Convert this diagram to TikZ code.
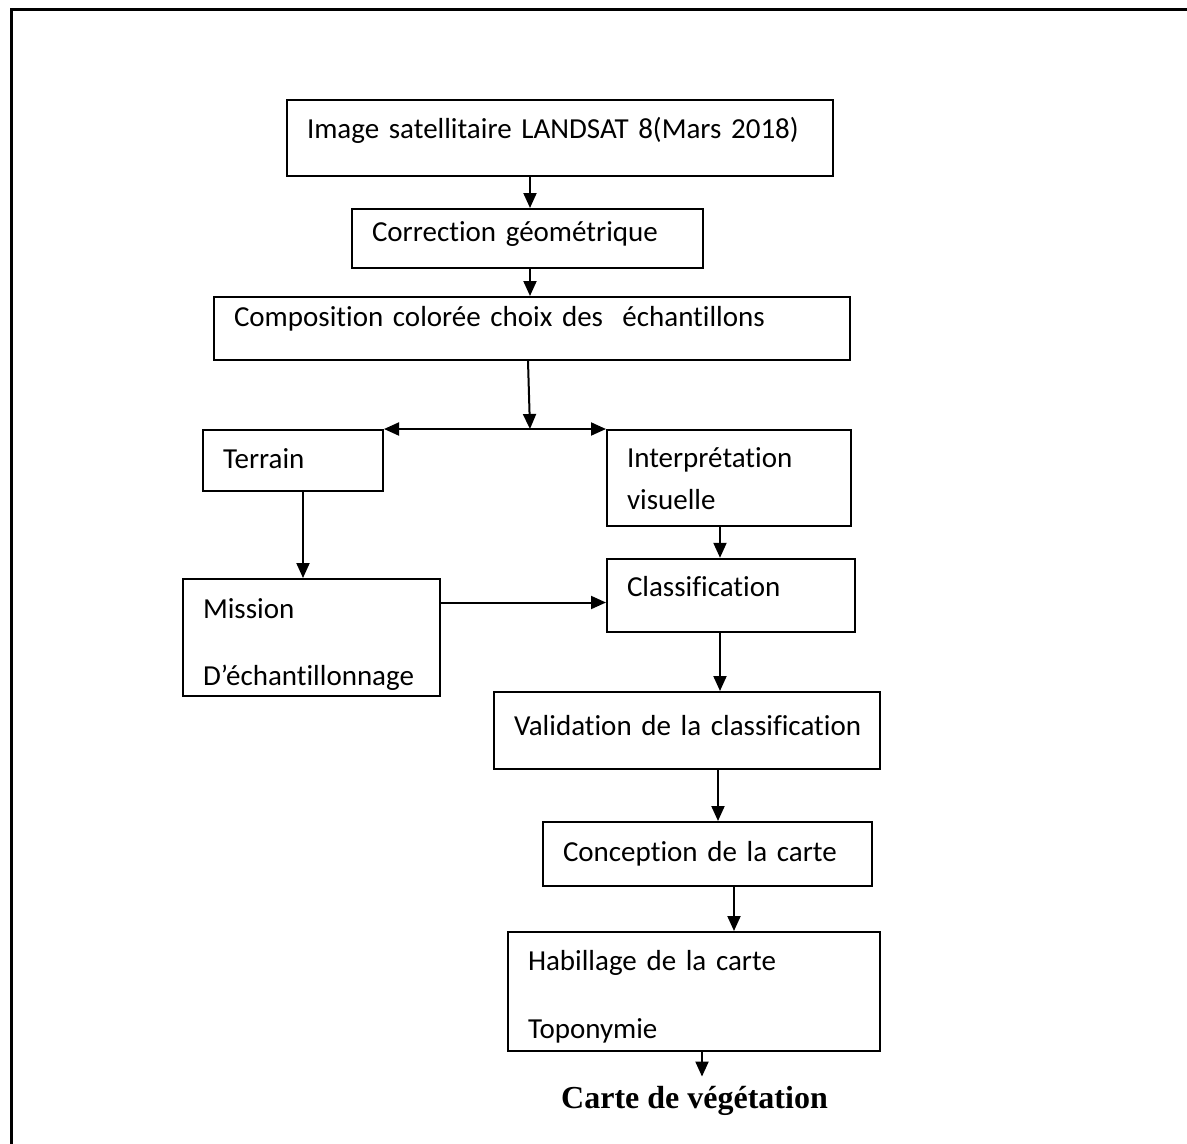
\documentclass[tikz,border=0pt]{standalone}
\usepackage{fontspec}
\setmainfont{Carlito}[Ligatures=NoCommon]
\newfontfamily\titlefont{Liberation Serif}
\usetikzlibrary{arrows.meta}
\tikzset{
  box/.style={shape=rectangle,draw=black,line width=2pt,align=left,
    inner xsep=0pt,inner ysep=2pt,font=\fontsize{29}{35}\selectfont,
    execute at begin node={\leftskip=20pt}},
  arr/.style={-{Triangle[length=15pt,width=13pt]},line width=2pt},
}
\begin{document}
\begin{tikzpicture}[x=1pt,y=-1pt]
      \useasboundingbox (0,0) rectangle (1187,1144);
      \draw[line width=3pt] (11,1144) -- (11,9) -- (1187,9);
      \draw
        (560, 138) node[box,text width=546pt,minimum height=76pt,text height=20pt,text depth=20pt] (img){Image satellitaire LANDSAT 8(Mars 2018)}
        (527.5, 238.5) node[box,text width=351pt,minimum height=59pt,text height=22.5pt,text depth=17.5pt] (corr){Correction géométrique}
        (532, 328.5) node[box,text width=636pt,minimum height=63pt,text height=17.5pt,text depth=22.5pt] (comp){Composition colorée choix des~ échantillons}
        (293, 460.5) node[box,text width=180pt,minimum height=61pt,text height=27.5pt,text depth=12.5pt] (terr){Terrain}
        (729, 478) node[box,text width=244pt,minimum height=96pt,text height=28pt,text depth=48.6pt] (interp){Interprétation\\[6.6pt]visuelle}
        (311.5, 637.5) node[box,text width=257pt,minimum height=117pt,text height=33pt,text depth=72pt] (miss){Mission\\[32pt]D’échantillonnage}
        (731, 595.3) node[box,text width=248pt,minimum height=73pt,text height=21.4pt,text depth=18.6pt] (cls){Classification}
        (687, 730.5) node[box,text width=386pt,minimum height=77pt,text height=24.5pt,text depth=15.5pt] (valid){Validation de la classification}
        (707.5, 854) node[box,text width=329pt,minimum height=64pt,text height=27pt,text depth=13pt] (conc){Conception de la carte}
        (694, 991.5) node[box,text width=372pt,minimum height=119pt,text height=32pt,text depth=75pt] (hab){Habillage de la carte\\[33pt]Toponymie}
        (694.5, 1108) node[anchor=base,inner sep=9pt,font=\titlefont\bfseries\fontsize{32}{38}\selectfont] (carte){Carte de végétation};
      \coordinate (split) at (terr.north east -| 530,0);
      \begin{scope}[arr]
        \draw ([xshift=-30pt]img.south) -- ([xshift=-30pt]img.south |- corr.north);
        \draw ([xshift=2.5pt]corr.south) -- ([xshift=2.5pt]corr.south |- comp.north);
        \draw ([xshift=-4pt]comp.south) -- (split);
        \draw[{Triangle[length=15pt,width=13pt]}-{Triangle[length=15pt,width=13pt]}] (terr.north east) -- (terr.north east -| interp.west);
        \draw ([xshift=10pt]terr.south) -- ([xshift=10pt]terr.south |- miss.north);
        \draw ([xshift=-9pt]interp.south) -- ([xshift=-9pt]interp.south |- cls.north);
        \draw ([yshift=35pt]miss.east) -- ([yshift=35pt]miss.east -| cls.west);
        \draw ([xshift=-11pt]cls.south) -- ([xshift=-11pt]cls.south |- valid.north);
        \draw ([xshift=31pt]valid.south) -- ([xshift=31pt]valid.south |- conc.north);
        \draw ([xshift=26.5pt]conc.south) -- ([xshift=26.5pt]conc.south |- hab.north);
        \draw ([xshift=8pt]hab.south) -- ([xshift=8pt]hab.south |- carte.north);
      \end{scope}
    \end{tikzpicture}
\end{document}
